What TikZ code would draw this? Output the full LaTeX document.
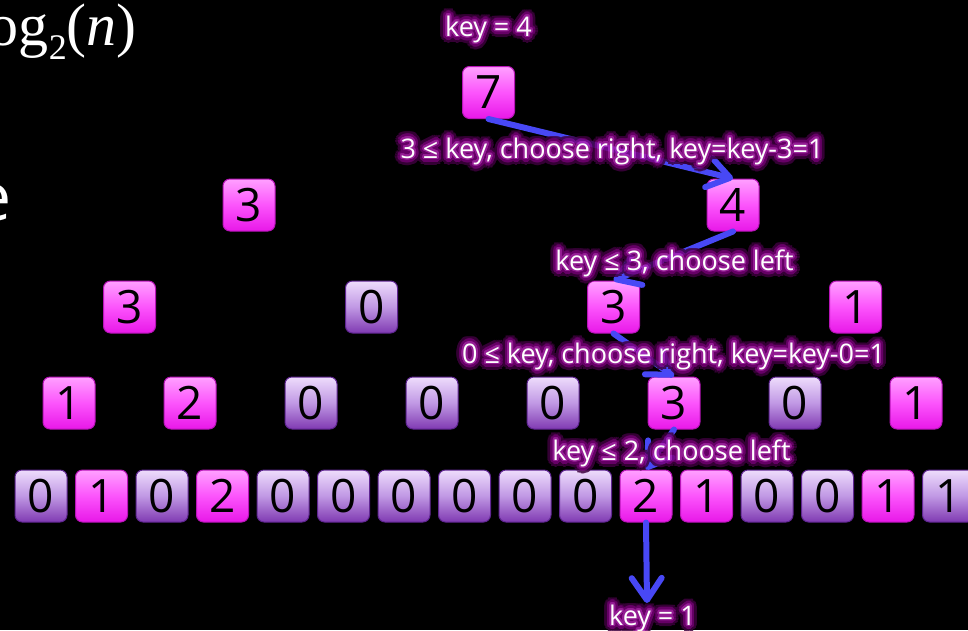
\documentclass[tikz,border=0pt]{standalone}
\usepackage{fontspec}
\setmainfont{Open Sans}
\newfontfamily\serifmath{Liberation Serif}
\usepackage{contour}
\contournumber{24}
\usetikzlibrary{arrows.meta}

% cell colours
\definecolor{hotTop}{RGB}{255,160,255}
\definecolor{hotMid}{RGB}{252,84,252}
\definecolor{hotBot}{RGB}{232,24,232}
\definecolor{hotRim}{RGB}{185,20,185}
\definecolor{coldTop}{RGB}{238,220,252}
\definecolor{coldMid}{RGB}{192,152,228}
\definecolor{coldBot}{RGB}{128,58,178}
\definecolor{coldRim}{RGB}{96,38,146}
% connectors and label halo
\definecolor{walkBlue}{RGB}{72,72,245}
\definecolor{glowA}{RGB}{175,35,175}
\definecolor{glowB}{RGB}{120,0,120}
\definecolor{glowC}{RGB}{62,0,62}

% soft halo behind a label: three nested outlines
\newcommand\halo[1]{%
  \rlap{\color{glowC}\contourlength{7pt}\contour{glowC}{#1}}%
  \rlap{\color{glowB}\contourlength{4.2pt}\contour{glowB}{#1}}%
  {\color{glowA}\contourlength{1.8pt}\contour{glowA}{#1}}}

% label = halo node (semi-transparent) + white text node on top
\newcommand\steplabel[3]{%
  \begin{scope}[transparency group, opacity=0.85]
    \node[lbl] (#1-halo) at #2 {\halo{#3}};
  \end{scope}
  \node[lbl, text=white] (#1) at #2 {#3};}

\tikzset{
  cell/.style={minimum size=52pt, inner sep=0pt, rounded corners=7pt,
    line width=1pt, text=black, font=\fontsize{46}{46}\selectfont},
  hot/.style={cell, draw=hotRim, top color=hotTop, bottom color=hotBot, middle color=hotMid},
  cold/.style={cell, draw=coldRim, top color=coldTop, bottom color=coldBot, middle color=coldMid},
  walk/.style={draw=walkBlue, line width=6pt, line cap=round, line join=round,
    -{Straight Barb[length=22pt, width=30pt, round]}},
  lbl/.style={anchor=base, inner sep=0pt, font=\fontsize{27}{30}\selectfont},
}

\begin{document}
\begin{tikzpicture}[x=1pt, y=-1pt]
  \useasboundingbox (0,0) rectangle (968,630);
  \fill[black] (0,0) rectangle (968,630);
  \clip (0,0) rectangle (968,630);

  % fragments of the surrounding slide text
  \node[anchor=base east, inner sep=0pt, text=white,
        font=\serifmath\fontsize{60}{66}\selectfont] (logn) at (137,45)
        {log\raisebox{-0.24em}{\fontsize{36}{36}\selectfont 2}(\textit{n})};
  \node[anchor=base east, inner sep=0pt, text=white,
        font=\fontsize{66}{76}\selectfont] (tailE) at (12,220) {e};

  % level 1
  \node[hot] (top) at (488.5,92.5) {7};
  % level 2
  \node[hot] (e0) at (249,205) {3};
  \node[hot] (e1) at (733,205) {4};
  % level 3
  \foreach \v/\s [count=\i from 0] in {3/hot,0/cold,3/hot,1/hot}
    \node[\s] (d\i) at ({129.5+242*\i},307) {\v};
  % level 4
  \foreach \v/\s [count=\i from 0] in {1/hot,2/hot,0/cold,0/cold,0/cold,3/hot,0/cold,1/hot}
    \node[\s] (c\i) at ({69+121*\i},403) {\v};
  % leaves
  \foreach \v/\s [count=\i from 0] in {0/cold,1/hot,0/cold,2/hot,0/cold,0/cold,0/cold,0/cold,
                                       0/cold,0/cold,2/hot,1/hot,0/cold,0/cold,1/hot,1/cold}
    \node[\s] (b\i) at ({41+60.5*\i},496) {\v};

  % search path
  \coordinate (leaf) at (647,603);
  \draw[walk] (top.south) -- (e1.north);
  \draw[walk] (e1.south) -- (d2.north);
  \draw[walk] (d2.south) -- (c5.north);
  \draw[walk] (c5.south) -- (b10.north);
  \draw[walk] (b10.south) -- (leaf);

  % step labels
  \steplabel{k0}{(488.5,36)}{key = 4}
  \steplabel{k1}{(612,158)}{3 ≤ key, choose right, key=key-3=1}
  \steplabel{k2}{(674.5,270)}{key ≤ 3, choose left}
  \steplabel{k3}{(673.5,363)}{0 ≤ key, choose right, key=key-0=1}
  \steplabel{k4}{(671.5,460)}{key ≤ 2, choose left}
  \steplabel{k5}{(652.5,625)}{key = 1}
\end{tikzpicture}
\end{document}
